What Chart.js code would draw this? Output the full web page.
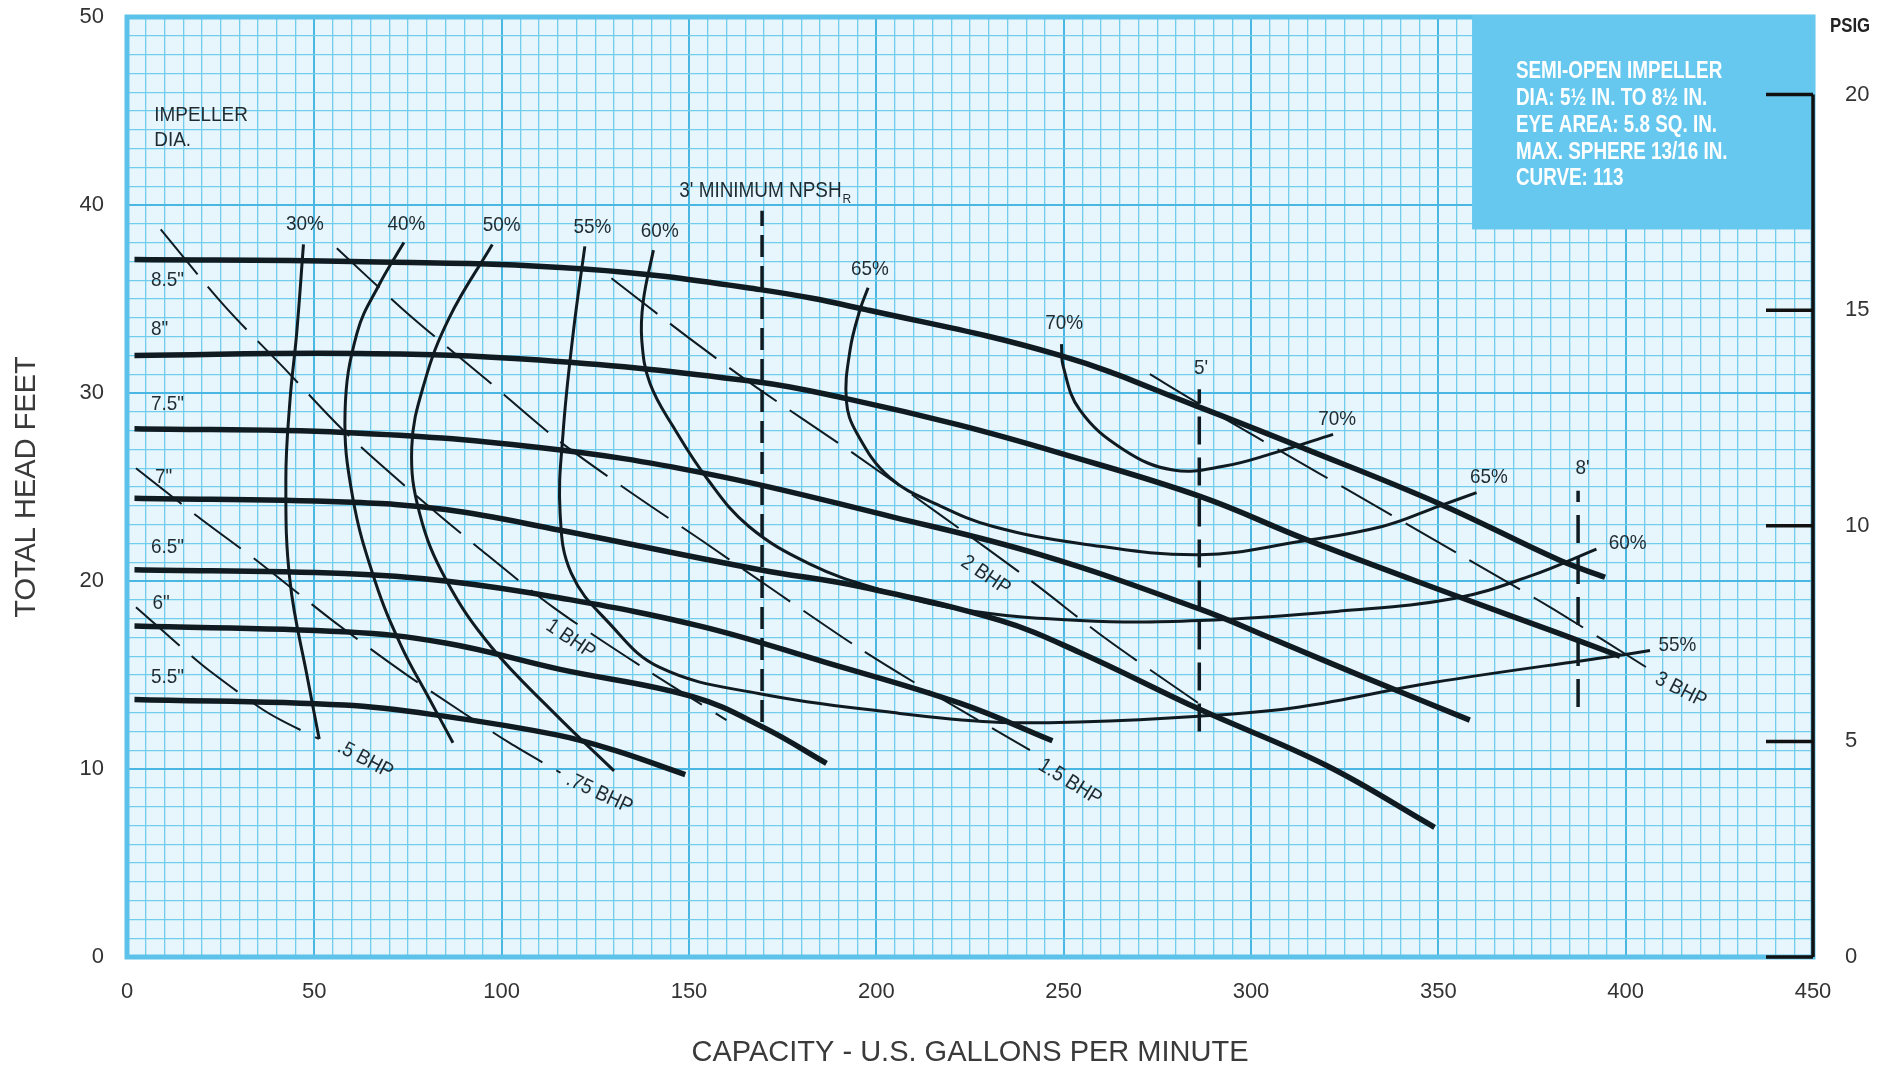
<!DOCTYPE html>
<html>
<head>
<meta charset="utf-8">
<title>Pump curve 113</title>
<script src="https://cdn.jsdelivr.net/npm/chart.js@4.4.1/dist/chart.umd.min.js"></script>
<style>
  html, body { margin: 0; padding: 0; background: #ffffff; }
  canvas { display: block; }
</style>
</head>
<body>
<canvas id="chart" width="1892" height="1071"></canvas>
<script>
// tick labels
const capacityTicks = [0, 50, 100, 150, 200, 250, 300, 350, 400, 450];
const headTicks = [0, 10, 20, 30, 40, 50];
const psigTicks = [0, 5, 10, 15, 20];

// head-capacity curves per impeller diameter, [gpm, ft]
const dia85 = [[2,37.1],[60,37.0],[122,36.6],[169,35.5],[198,34.4],[249,32.0],[285.5,29.3],[314.8,27.0],[350.4,24.1],[382.4,21.1],[394.5,20.2]];
const dia80 = [[2,32.0],[62,32.1],[110,31.75],[168,30.6],[192,29.7],[222,28.3],[249,26.8],[286.4,24.5],[314.8,22.2],[354.9,19.2],[382.4,17.2],[398.5,16.0]];
const dia75 = [[2,28.1],[58,27.9],[110,27.1],[155,25.7],[204.5,23.4],[243.7,21.4],[286.4,18.5],[306,16.9],[330,14.9],[358.4,12.6]];
const dia70 = [[2,24.4],[58,24.2],[85,23.8],[115.6,22.7],[168.9,20.6],[195.6,19.7],[233,17.9],[254.3,16.2],[286,13.2],[320,10.2],[349,6.9]];
const dia65 = [[2,20.6],[58,20.4],[85,20.0],[115.6,19.1],[153,17.6],[186,15.7],[222.3,13.5],[247,11.5]];
const dia60 = [[2,17.6],[58,17.3],[85,16.7],[115.6,15.3],[151,13.85],[170,12.2],[186.7,10.3]];
const dia55 = [[2,13.7],[58,13.4],[85,12.8],[115,11.8],[130,11.0],[149,9.7]];

// efficiency curves
const eff30 = [[47.1,37.9],[45.3,33.2],[43.5,29.6],[42.4,25.4],[43.5,20.0],[48.3,14.7],[51.3,11.6]];
const eff40 = [[73.9,38.0],[67.4,35.8],[61.4,33.2],[58.2,29.0],[60.2,24.5],[66.2,20.0],[73.3,16.5],[80.5,13.8],[87.0,11.4]];
const eff50 = [[97.5,37.9],[86,34],[79.3,30.5],[76,27.1],[78.1,23.6],[85.2,20.05],[97.2,16.5],[113.9,13.0],[130,9.9]];
const eff55 = [[122.2,37.8],[119.1,33.2],[116.4,27.9],[115.6,23.6],[118.6,20.4],[128.5,17.8],[142.2,15.4],[168.9,14.0],[204.5,13.0],[231,12.5],[254,12.5],[286,12.8],[313,13.3],[348.6,14.6],[396.7,16.0],[406.5,16.3]];
const eff60 = [[140.5,37.6],[137.8,34.9],[137.4,32.8],[139.6,30.5],[145.8,28.2],[155,25.4],[166,22.9],[182.3,20.9],[200,19.6],[222.3,18.5],[254.3,17.9],[286.4,17.9],[323.7,18.4],[354.9,19.1],[375,20.3],[392.2,21.7]];
const eff65 = [[197.8,35.6],[195.6,34.4],[193,32.3],[192,29.6],[194.7,27.9],[203.6,25.5],[217,24.0],[231.2,22.9],[254.3,22.0],[286.4,21.4],[313,22.1],[335,22.9],[350.4,24.0],[360.2,24.7]];
const eff70 = [[249.4,32.6],[249.9,31.4],[254.3,29.1],[265.9,27.0],[279.2,25.9],[292.6,26.1],[306,26.8],[321.9,27.8]];

// brake horsepower lines
const bhp05 = [[2.4,18.6],[17.3,16.0],[22.2,15.2],[35.2,13.3],[41.1,12.6],[51.2,11.6]];
const bhp075 = [[2.4,26.0],[18.4,23.5],[35.2,21.0],[55.5,17.8],[74,15.1],[88.9,13.1],[102,11.4],[115.7,9.8]];
const bhp1 = [[9,38.7],[25.7,34.7],[43,31.1],[57.8,28.0],[75.7,24.8],[93.6,21.8],[113.8,18.6],[137.7,15.4],[160,12.6]];
const bhp15 = [[56,37.7],[74.5,34.3],[96,30.7],[115,27.5],[133.8,24.8],[153.8,22.1],[173.4,19.4],[195.6,16.4],[215.2,14.0],[241,11.0]];
const bhp2 = [[129.3,36.1],[149.5,33.0],[168,30.3],[193.8,26.8],[217.9,23.4],[241,20.05],[261.5,16.9],[286,13.5]];
const bhp3 = [[273,31.0],[285.5,29.5],[318.4,25.7],[356.6,21.3],[380.7,18.5],[405.6,15.4]];

// NPSH required lines
const npshCapacity = [169.5, 286.2, 387.3];
const npshLow = [12.5, 12.0, 13.3];
const npshHigh = [39.7, 30.2, 24.8];

// annotation text: [text, gpm, ft]
const diaLabels = [['8.5"',6.4,36.0],['8"',6.4,33.4],['7.5"',6.4,29.4],['7"',7.5,25.5],['6.5"',6.4,21.8],['6"',6.8,18.8],['5.5"',6.4,14.9]];
const effLabels = [['30%',47.5,39.0],['40%',74.6,39.0],['50%',100,38.9],['55%',124.2,38.8],['60%',142.2,38.6],['65%',198.3,36.6],['70%',250.1,33.7],
                   ['70%',323,28.6],['65%',363.5,25.5],['60%',400.5,22.0],['55%',413.8,16.6]];
const bhpLabels = [['.5 BHP',63.6,10.5,28],['.75 BHP',126.1,8.7,25],['1 BHP',118.4,16.9,34],['1.5 BHP',251.7,9.3,32],['2 BHP',229.2,20.3,34],['3 BHP',414.7,14.2,27]];
const npshLabels = [["3' MINIMUM NPSH",147.4,40.75],["5'",286.7,31.3],["8'",388.5,26.0]];
const infoLines = ['SEMI-OPEN IMPELLER', 'DIA: 5\u00bd IN. TO 8\u00bd IN.', 'EYE AREA: 5.8 SQ. IN.', 'MAX. SPHERE 13/16 IN.', 'CURVE: 113'];

const ink = '#0f1b21';
const sans = "'Liberation Sans', Arial, sans-serif";

const toPts = arr => arr.map(([x, y]) => ({ x, y }));
function curve(label, pts, width, dash, tension) {
    return {
        label: label,
        data: toPts(pts),
        borderColor: ink,
        borderWidth: width,
        borderDash: dash || [],
        tension: tension === undefined ? 0.4 : tension,
        pointRadius: 0,
        fill: false,
        yAxisID: 'y'
    };
}

let datasets = [
    curve('8.5"', dia85, 5.5), curve('8"', dia80, 5.5), curve('7.5"', dia75, 5.5), curve('7"', dia70, 5.5),
    curve('6.5"', dia65, 5.5), curve('6"', dia60, 5.5), curve('5.5"', dia55, 5.5),
    curve('30%', eff30, 3), curve('40%', eff40, 3), curve('50%', eff50, 3), curve('55%', eff55, 3),
    curve('60%', eff60, 3), curve('65%', eff65, 3), curve('70%', eff70, 3),
    curve('.5 BHP', bhp05, 2, [58, 16], 0.3), curve('.75 BHP', bhp075, 2, [58, 16], 0.3), curve('1 BHP', bhp1, 2, [58, 16], 0.3),
    curve('1.5 BHP', bhp15, 2, [58, 16], 0.3), curve('2 BHP', bhp2, 2, [58, 16], 0.3), curve('3 BHP', bhp3, 2, [58, 16], 0.3)
];
npshCapacity.forEach((q, i) => {
    datasets.push(curve('npsh' + i, [[q, npshLow[i]], [q, npshHigh[i]]], 3.5, i == 0 ? [22, 9] : [28, 13], 0));
});

const gridMinor = '#72cdec';
const gridMajor = '#4ab7e3';

// text squeezed sideways, the original lettering is condensed
function squeezed(ctx, text, px, py, sx) {
    ctx.save();
    ctx.translate(px, py);
    ctx.scale(sx, 1);
    ctx.fillText(text, 0, 0);
    ctx.restore();
}

const paper = {
    id: 'paper',
    beforeDraw(chart) {
        const { ctx, chartArea: a } = chart;
        ctx.save();
        ctx.fillStyle = '#ffffff';
        ctx.fillRect(0, 0, chart.width, chart.height);
        ctx.fillStyle = '#e6f6fc';
        ctx.fillRect(a.left, a.top, a.right - a.left, a.bottom - a.top);
        ctx.restore();
    },
    beforeDatasetsDraw(chart) {
        const { ctx, chartArea: a, scales: { x, y } } = chart;
        ctx.save();
        ctx.strokeStyle = '#5cc2ea';
        ctx.lineWidth = 5;
        ctx.strokeRect(a.left, a.top, a.right - a.left, a.bottom - a.top);
        // info box
        const bx = x.getPixelForValue(359), by = y.getPixelForValue(38.7);
        ctx.fillStyle = '#67c8ef';
        ctx.fillRect(bx, a.top - 2, a.right + 2 - bx, by - a.top + 2);
        ctx.fillStyle = '#ffffff';
        ctx.font = 'bold 23px ' + sans;
        ctx.textBaseline = 'middle';
        ctx.textAlign = 'left';
        infoLines.forEach((t, i) => {
            squeezed(ctx, t, x.getPixelForValue(370.7), y.getPixelForValue(47.1 - i * 1.43), 0.82);
        });
        ctx.restore();
    },
    afterDatasetsDraw(chart) {
        const { ctx, chartArea: a, scales: { x, y, y1 } } = chart;
        ctx.save();
        ctx.fillStyle = '#1f2b31';
        ctx.textBaseline = 'middle';
        ctx.font = '21px ' + sans;
        const sx = 0.9;

        ctx.textAlign = 'left';
        squeezed(ctx, 'IMPELLER', x.getPixelForValue(7.3), y.getPixelForValue(44.8), sx);
        squeezed(ctx, 'DIA.', x.getPixelForValue(7.3), y.getPixelForValue(43.45), sx);
        for (const [t, q, h] of diaLabels) squeezed(ctx, t, x.getPixelForValue(q), y.getPixelForValue(h), sx);

        ctx.textAlign = 'center';
        for (const [t, q, h] of effLabels) squeezed(ctx, t, x.getPixelForValue(q), y.getPixelForValue(h), sx);

        for (const [t, q, h, ang] of bhpLabels) {
            ctx.save();
            ctx.translate(x.getPixelForValue(q), y.getPixelForValue(h));
            ctx.rotate(ang * Math.PI / 180);
            squeezed(ctx, t, 0, 0, sx);
            ctx.restore();
        }

        // NPSH labels
        ctx.font = '22px ' + sans;
        ctx.textAlign = 'left';
        const [t0, q0, h0] = npshLabels[0];
        const px = x.getPixelForValue(q0), py = y.getPixelForValue(h0);
        squeezed(ctx, t0, px, py, 0.86);
        const w = ctx.measureText(t0).width * 0.86;
        ctx.font = '12px ' + sans;
        ctx.fillText('R', px + w + 1, py + 9);
        ctx.font = '21px ' + sans;
        ctx.textAlign = 'center';
        for (const [t, q, h] of npshLabels.slice(1)) squeezed(ctx, t, x.getPixelForValue(q), y.getPixelForValue(h), sx);

        // PSIG scale spine and inward ticks
        ctx.strokeStyle = '#111';
        ctx.lineWidth = 3.5;
        ctx.beginPath();
        ctx.moveTo(a.right, y1.getPixelForValue(20));
        ctx.lineTo(a.right, y1.getPixelForValue(0));
        for (const p of psigTicks) {
            ctx.moveTo(a.right, y1.getPixelForValue(p));
            ctx.lineTo(a.right - 47, y1.getPixelForValue(p));
        }
        ctx.stroke();
        ctx.fillStyle = '#222';
        ctx.font = 'bold 21px ' + sans;
        ctx.textAlign = 'left';
        squeezed(ctx, 'PSIG', a.right + 17, a.top + 9, 0.8);
        ctx.restore();
    }
};

const tickFont = { family: sans, size: 22 };
const noPad = s => { s.paddingTop = 0; s.paddingBottom = 0; s.paddingLeft = 0; s.paddingRight = 0; };

new Chart(document.getElementById('chart'), {
    type: 'line',
    data: { datasets: datasets },
    options: {
        responsive: false,
        animation: false,
        layout: { padding: { top: 17, left: 0, right: 0, bottom: 0 } },
        plugins: { legend: { display: false }, tooltip: { enabled: false } },
        scales: {
            x: {
                type: 'linear',
                min: 0,
                max: 450,
                afterFit: s => { s.height = 114; noPad(s); },
                border: { display: false },
                grid: {
                    drawTicks: false,
                    color: c => (c.tick && c.tick.value % 50 === 0) ? gridMajor : gridMinor,
                    lineWidth: c => (c.tick && c.tick.value % 50 === 0) ? 2 : 1.3
                },
                ticks: {
                    stepSize: 5,
                    maxTicksLimit: 1000,
                    autoSkip: false,
                    maxRotation: 0,
                    minRotation: 0,
                    padding: 22,
                    color: '#333',
                    font: tickFont,
                    callback: v => capacityTicks.includes(v) ? String(v) : ''
                },
                title: {
                    display: true,
                    text: 'CAPACITY - U.S. GALLONS PER MINUTE',
                    color: '#3a3a3a',
                    font: { family: sans, size: 29 },
                    padding: { top: 0, bottom: 1 }
                }
            },
            y: {
                type: 'linear',
                position: 'left',
                min: 0,
                max: 50,
                afterFit: s => { s.width = 127; noPad(s); },
                border: { display: false },
                grid: {
                    drawTicks: false,
                    color: c => (c.tick && c.tick.value % 10 === 0) ? gridMajor : gridMinor,
                    lineWidth: c => (c.tick && c.tick.value % 10 === 0) ? 2 : 1.3
                },
                ticks: {
                    stepSize: 1,
                    maxTicksLimit: 1000,
                    autoSkip: false,
                    padding: 23,
                    color: '#333',
                    font: tickFont,
                    callback: v => headTicks.includes(v) ? String(v) : ''
                },
                title: {
                    display: true,
                    text: 'TOTAL HEAD FEET',
                    color: '#3a3a3a',
                    font: { family: sans, size: 29 },
                    padding: { top: 10, bottom: 0 }
                }
            },
            y1: {
                type: 'linear',
                position: 'right',
                min: 0,
                max: 21.8,
                afterFit: s => { s.width = 79; noPad(s); },
                border: { display: false },
                grid: { display: false, drawOnChartArea: false },
                ticks: {
                    stepSize: 5,
                    padding: 24,
                    color: '#333',
                    font: tickFont,
                    callback: v => psigTicks.includes(v) ? String(v) : ''
                }
            }
        }
    },
    plugins: [paper]
});
</script>
</body>
</html>
